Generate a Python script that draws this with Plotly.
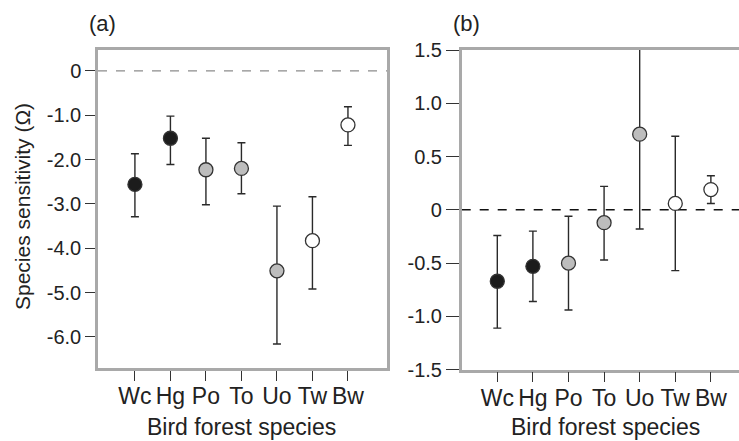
import plotly.graph_objects as go

species = ["Wc", "Hg", "Po", "To", "Uo", "Tw", "Bw"]
fills = ["#1c1c1c", "#1c1c1c", "#bdbdbd", "#bdbdbd", "#bdbdbd", "#ffffff", "#ffffff"]

a_val = [-2.56, -1.52, -2.23, -2.20, -4.51, -3.83, -1.22]
a_up = [-1.87, -1.02, -1.52, -1.62, -3.05, -2.84, -0.81]
a_lo = [-3.29, -2.11, -3.02, -2.77, -6.16, -4.92, -1.68]

b_val = [-0.67, -0.53, -0.50, -0.12, 0.71, 0.06, 0.19]
b_up = [-0.24, -0.20, -0.06, 0.22, 1.60, 0.69, 0.32]
b_lo = [-1.11, -0.86, -0.94, -0.47, -0.18, -0.57, 0.06]

a_ticks = [0, -1, -2, -3, -4, -5, -6]
a_ticktext = ["0", "-1.0", "-2.0", "-3.0", "-4.0", "-5.0", "-6.0"]
b_ticks = [1.5, 1.0, 0.5, 0, -0.5, -1.0, -1.5]
b_ticktext = ["1.5", "1.0", "0.5", "0", "-0.5", "-1.0", "-1.5"]

W, H = 739, 441
TXT = "#222222"
FONT = "Liberation Sans, Arial, sans-serif"


def px_x(v):
    return v / W


def px_y(v):
    return 1 - v / H


fig = go.Figure()

for vals, ups, los, xa, ya in [(a_val, a_up, a_lo, "x", "y"), (b_val, b_up, b_lo, "x2", "y2")]:
    fig.add_trace(go.Scatter(
        x=species, y=vals, mode="markers", xaxis=xa, yaxis=ya, showlegend=False,
        marker=dict(size=14, color=fills, line=dict(color="#333333", width=1.3)),
        error_y=dict(type="data", symmetric=False,
                     array=[u - v for u, v in zip(ups, vals)],
                     arrayminus=[v - l for v, l in zip(vals, los)],
                     color="#2a2a2a", thickness=1.4, width=4),
    ))

axis_common = dict(
    showgrid=False, zeroline=False, showline=True, linecolor="#a9a9a9", linewidth=2.5,
    ticks="outside", tickcolor="#333333", tickwidth=1.3, automargin=False,
    tickfont=dict(family=FONT, size=20, color=TXT),
)

fig.update_layout(
    template="none",
    width=W, height=H, margin=dict(l=0, r=0, t=0, b=0, pad=0), autosize=False,
    paper_bgcolor="white", plot_bgcolor="white",
    font=dict(family=FONT, color=TXT),
    xaxis=dict(axis_common, domain=[px_x(98), px_x(387)], type="category",
               range=[-1.04, 7.1], ticklen=10, mirror=True, anchor="y",
               ticklabelstandoff=-4,
               tickfont=dict(family=FONT, size=23, color=TXT)),
    yaxis=dict(axis_common, domain=[px_y(368), px_y(50)], range=[-6.7, 0.47],
               tickvals=a_ticks, ticktext=a_ticktext, ticklen=10, mirror=True, anchor="x"),
    xaxis2=dict(axis_common, domain=[px_x(461.7), 1.0], type="category",
                range=[-1.0, 6.79], ticklen=10, mirror=True, anchor="y2",
                ticklabelstandoff=-4,
                tickfont=dict(family=FONT, size=23, color=TXT)),
    yaxis2=dict(axis_common, domain=[px_y(369.7), px_y(50)], range=[-1.5, 1.5],
                tickvals=b_ticks, ticktext=b_ticktext, ticklen=13, mirror=False, anchor="x2"),
)

fig.add_shape(type="line", xref="x domain", yref="y", x0=0, x1=1, y0=0, y1=0,
              line=dict(color="#8c8c8c", width=1.2, dash="dash"), layer="below")
fig.add_shape(type="line", xref="x2 domain", yref="y2", x0=0, x1=1, y0=0, y1=0,
              line=dict(color="#111111", width=1.5, dash="dash"), layer="below")

annos = [
    dict(text="(a)", x=px_x(102), y=px_y(23), size=22),
    dict(text="(b)", x=px_x(466), y=px_y(23), size=22),
    dict(text="Bird forest species", x=px_x(242), y=px_y(427), size=23),
    dict(text="Bird forest species", x=px_x(605), y=px_y(427), size=23),
]
for a in annos:
    fig.add_annotation(text=a["text"], x=a["x"], y=a["y"], xref="paper", yref="paper",
                       showarrow=False, xanchor="center", yanchor="middle",
                       font=dict(family=FONT, size=a["size"], color=TXT))
fig.add_annotation(text="Species sensitivity (Ω)", x=px_x(22), y=px_y(207), xref="paper",
                   yref="paper", showarrow=False, textangle=-90, xanchor="center",
                   yanchor="middle", font=dict(family=FONT, size=21, color=TXT))

fig.write_html("out.html")
